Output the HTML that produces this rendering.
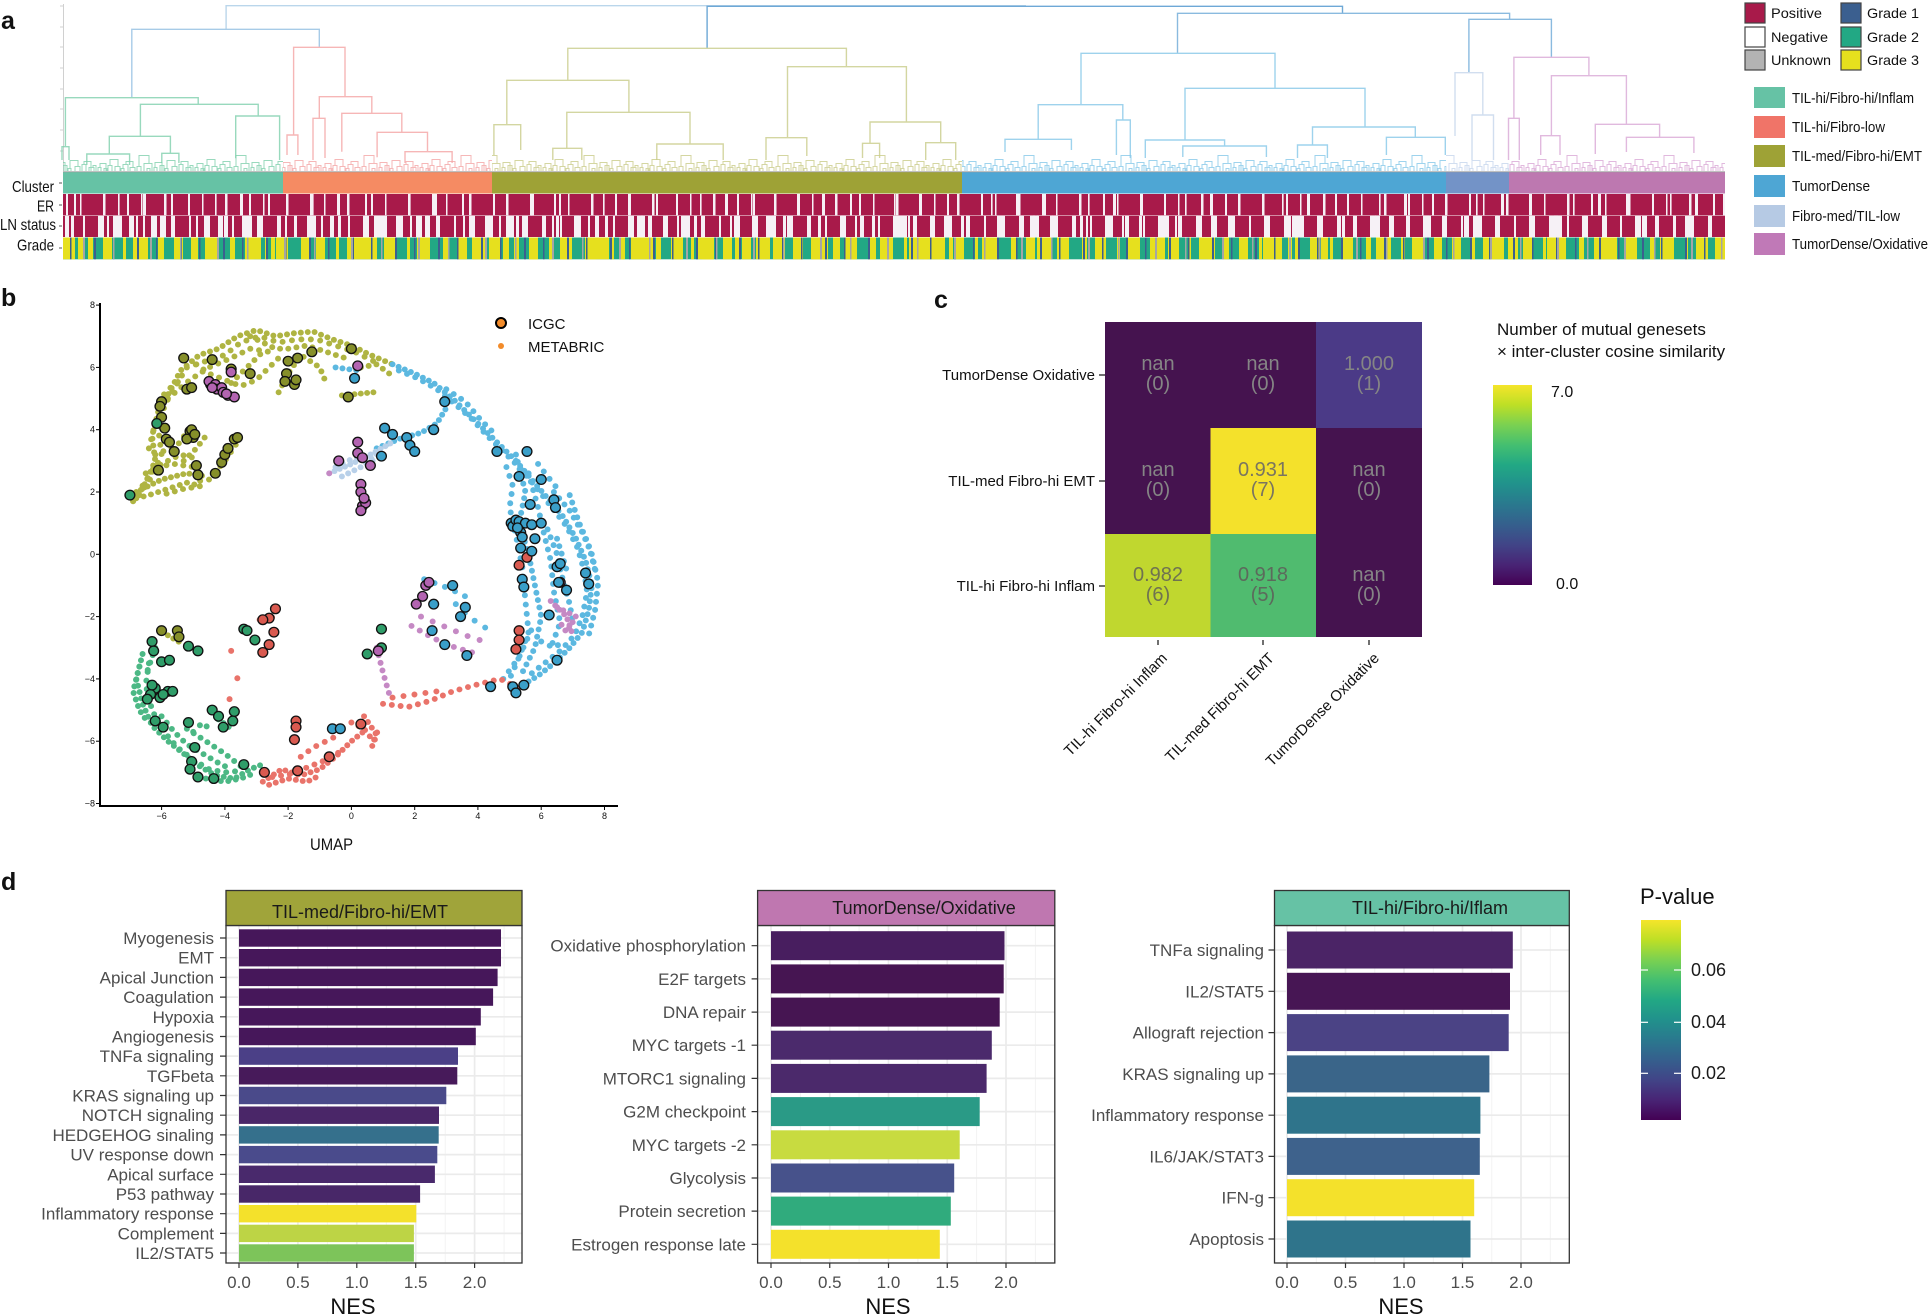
<!DOCTYPE html>
<html><head><meta charset="utf-8">
<style>
html,body{margin:0;padding:0;background:#fff;}
svg{display:block;font-family:"Liberation Sans",Arial,sans-serif;}
</style></head><body>
<svg width="1929" height="1316" viewBox="0 0 1929 1316" xmlns="http://www.w3.org/2000/svg">
<defs>
<linearGradient id="vir" x1="0" y1="1" x2="0" y2="0">
<stop offset="0" stop-color="#440154"/><stop offset="0.1" stop-color="#482475"/><stop offset="0.2" stop-color="#414487"/><stop offset="0.3" stop-color="#355f8d"/><stop offset="0.4" stop-color="#2a788e"/><stop offset="0.5" stop-color="#21918c"/><stop offset="0.6" stop-color="#22a884"/><stop offset="0.7" stop-color="#44bf70"/><stop offset="0.8" stop-color="#7ad151"/><stop offset="0.9" stop-color="#bddf26"/><stop offset="1" stop-color="#f5e52a"/>
</linearGradient>
<path id="nzp" fill="none" stroke-width="1" d="M1 21.5V18H4V21.5M3 18V14H9V21.5M7 21.5V19H10V21.5M11 21.5V16H15V21.5M13 16V10H21V17M18 21.5V17H23V21.5M24 21.5V19H27V21.5M26 19V15H31V21.5M29 15V12H36V18M33 21.5V18H38V21.5M40 21.5V17H44V21.5M42 17V6H52V14M47 21.5V14H55V21.5M50 21.5V19H53V21.5M57 21.5V18H60V21.5M58 18V13H65V21.5M63 21.5V16H67V21.5M68 21.5V19H71V21.5M70 19V11H78V17M75 21.5V17H80V21.5M82 21.5V15H86V21.5M84 15V12H91V21.5M89 21.5V18H94V21.5M93 18V16H96V21.5"/>
<pattern id="nzT" patternUnits="userSpaceOnUse" x="0" y="149.5" width="97" height="22"><use href="#nzp" stroke="#7fd0ad"/></pattern>
<pattern id="nzO" patternUnits="userSpaceOnUse" x="31" y="149.5" width="97" height="22"><use href="#nzp" stroke="#f4a5a5"/></pattern>
<pattern id="nzL" patternUnits="userSpaceOnUse" x="57" y="149.5" width="97" height="22"><use href="#nzp" stroke="#c9cc8a"/></pattern>
<pattern id="nzB" patternUnits="userSpaceOnUse" x="12" y="149.5" width="97" height="22"><use href="#nzp" stroke="#86c8e8"/></pattern>
<pattern id="nzS" patternUnits="userSpaceOnUse" x="44" y="149.5" width="97" height="22"><use href="#nzp" stroke="#c6d6ec"/></pattern>
<pattern id="nzP" patternUnits="userSpaceOnUse" x="70" y="149.5" width="97" height="22"><use href="#nzp" stroke="#d9a8d6"/></pattern>

<pattern id="erA" patternUnits="userSpaceOnUse" x="63" y="0" width="61" height="300"><rect x="3" width="2" height="300" fill="#f6f1f6"/><rect x="17" width="1.5" height="300" fill="#f6f1f6"/><rect x="40" width="2.5" height="300" fill="#f6f1f6"/></pattern>
<pattern id="erB" patternUnits="userSpaceOnUse" x="63" y="0" width="97" height="300"><rect x="11" width="2" height="300" fill="#f6f1f6"/><rect x="55" width="1.6" height="300" fill="#f6f1f6"/><rect x="80" width="3" height="300" fill="#f6f1f6"/></pattern>
<pattern id="lnA" patternUnits="userSpaceOnUse" x="63" y="0" width="53" height="300"><rect x="2" width="4" height="300" fill="#f6f1f6"/><rect x="20" width="2" height="300" fill="#f6f1f6"/><rect x="35" width="6" height="300" fill="#f6f1f6"/></pattern>
<pattern id="lnB" patternUnits="userSpaceOnUse" x="63" y="0" width="89" height="300"><rect x="8" width="3" height="300" fill="#f6f1f6"/><rect x="44" width="2" height="300" fill="#f6f1f6"/><rect x="66" width="5" height="300" fill="#f6f1f6"/><rect x="80" width="2" height="300" fill="#f6f1f6"/></pattern>
<pattern id="lnC" patternUnits="userSpaceOnUse" x="63" y="0" width="131" height="300"><rect x="50" width="8" height="300" fill="#f6f1f6"/><rect x="100" width="3" height="300" fill="#f6f1f6"/></pattern>
<pattern id="gY1" patternUnits="userSpaceOnUse" x="63" y="0" width="71" height="300"><rect x="0" width="12" height="300" fill="#e6e01e"/><rect x="25" width="5" height="300" fill="#e6e01e"/><rect x="40" width="9" height="300" fill="#e6e01e"/><rect x="60" width="3" height="300" fill="#e6e01e"/></pattern>
<pattern id="gY2" patternUnits="userSpaceOnUse" x="63" y="0" width="113" height="300"><rect x="15" width="7" height="300" fill="#e6e01e"/><rect x="70" width="15" height="300" fill="#e6e01e"/><rect x="95" width="4" height="300" fill="#e6e01e"/></pattern>
<pattern id="gY3" patternUnits="userSpaceOnUse" x="63" y="0" width="29" height="300"><rect x="5" width="6" height="300" fill="#e6e01e"/></pattern>
<pattern id="gB" patternUnits="userSpaceOnUse" x="63" y="0" width="43" height="300"><rect x="7" width="1.5" height="300" fill="#3b5f8f"/><rect x="31" width="2" height="300" fill="#3b5f8f"/></pattern>
<pattern id="gG" patternUnits="userSpaceOnUse" x="63" y="0" width="67" height="300"><rect x="20" width="2" height="300" fill="#a5a5a5"/><rect x="50" width="1.5" height="300" fill="#a5a5a5"/></pattern>
</defs>
<rect width="1929" height="1316" fill="#fff"/>

<!-- ===== Panel a ===== -->
<text x="1" y="29" font-size="25" font-weight="bold" fill="#111">a</text>
<line x1="63.5" y1="4" x2="63.5" y2="171" stroke="#d0d0d0" stroke-width="1"/>
<g stroke="#d0d0d0" stroke-width="1">
<line x1="60" y1="6" x2="63" y2="6"/><line x1="60" y1="27" x2="63" y2="27"/><line x1="60" y1="47" x2="63" y2="47"/><line x1="60" y1="68" x2="63" y2="68"/><line x1="60" y1="89" x2="63" y2="89"/><line x1="60" y1="109" x2="63" y2="109"/><line x1="60" y1="130" x2="63" y2="130"/><line x1="60" y1="151" x2="63" y2="151"/>
</g>
<!-- dendrogram noise -->
<rect x="63" y="149.5" width="220" height="22" fill="url(#nzT)" opacity="0.8"/>
<rect x="283" y="149.5" width="209" height="22" fill="url(#nzO)" opacity="0.8"/>
<rect x="492" y="149.5" width="470" height="22" fill="url(#nzL)" opacity="0.8"/>
<rect x="962" y="149.5" width="484" height="22" fill="url(#nzB)" opacity="0.8"/>
<rect x="1446" y="149.5" width="63" height="22" fill="url(#nzS)" opacity="0.8"/>
<rect x="1509" y="149.5" width="216" height="22" fill="url(#nzP)" opacity="0.8"/>
<g fill="none" stroke-width="1.4" opacity="0.8">
<path stroke="#a9cce7" d="M226.1 29.3V5.7H1025.3V6.3"/>
<path stroke="#4a93cc" d="M707.1 48.3V6.3H1342.5V13.3"/>
<path stroke="#92bfe2" d="M131.8 97.7V29.3H319.3V47.3"/>
<path stroke="#7fd0ad" d="M65.4 146.7V97.7H198.2V104.3M140.4 136.3V104.3H258.2V116M109.3 154V136.3H170.4V154M235.7 158.3V116H279.6V160M86.8 165V154H129.6V165M161.8 163V153.3H178.9V163M62 160V146.7H69V160"/>
<path stroke="#f4a5a5" d="M293.6 135V47.3H345V96.7M319.3 118.3V96.7H371.8V113.3M341.8 151.7V113.3H401.8V132.3M377.1 157.3V132.3H427.5V151.7M405 163V151.7H452.1V163M287 155V135H297.9V155M313 160V118.3H325V158"/>
<path stroke="#c9cc8a" d="M567.8 80.3V48.3H846.4V66.7M506.8 124.7V80.3H628.9V112.3M493.9 155V124.7H520.7V150M566.8 148.3V112.3H690V144M787.5 137.7V66.7H906.4V122M766 160V137.7H806.8V156M870 143.3V122H940.7V142.7M656.8 160V144H723.2V160M552.8 160V148.3H581.8V160M862.5 158V143.3H879.6V158M925.7 160V142.7H955.7V160"/>
<path stroke="#6eaad8" d="M1177.5 53.3V13.3H1509.6V19.3M1468.9 72.7V19.3H1551.4V57.3"/>
<path stroke="#86c8e8" d="M1081 104.7V53.3H1275V88.3M1038.2 139.3V104.7H1122.8V120M1185 140V88.3H1365V127M1312.5 145V127H1415.3V137.3M1005 152V139.3H1071.4V150M1116.4 155V120H1130.3V158M1145.3 158V140H1224.6V146M1182.8 157V146H1266.4V157M1386.4 155V137.3H1445.3V155M1297.5 158V145H1327.4V158"/>
<path stroke="#c6d6ec" d="M1455 136V72.7H1482.8V115M1472 160V115H1493.5V160"/>
<path stroke="#d9a8d6" d="M1513.9 118.3V57.3H1588.9V75.7M1551.4 135.7V75.7H1626.4V124.3M1595.3 154V124.3H1659.6V137.3M1626.4 152V137.3H1693.9V153M1540.7 155V135.7H1560V155M1508.5 160V118.3H1519.3V160"/>
</g>
<!-- annotation rows -->
<rect x="63" y="172" width="220" height="21.5" fill="#66c2a5"/>
<rect x="283" y="172" width="209" height="21.5" fill="#f58b63"/>
<rect x="492" y="172" width="470" height="21.5" fill="#9ea236"/>
<rect x="962" y="172" width="484" height="21.5" fill="#4ea6d4"/>
<rect x="1446" y="172" width="63" height="21.5" fill="#7393c7"/>
<rect x="1509" y="172" width="216" height="21.5" fill="#bd78b0"/>
<line x1="63" y1="171.8" x2="1725" y2="171.8" stroke="#999" stroke-width="0.8"/>
<rect x="63" y="194" width="1662" height="21.3" fill="#a81a4a"/>
<rect x="63" y="194" width="1662" height="21.3" fill="url(#erA)"/>
<rect x="63" y="194" width="1662" height="21.3" fill="url(#erB)"/>
<rect x="63" y="215.8" width="1662" height="21.2" fill="#a81a4a"/>
<rect x="63" y="215.8" width="1662" height="21.2" fill="url(#lnA)"/>
<rect x="63" y="215.8" width="1662" height="21.2" fill="url(#lnB)"/>
<rect x="63" y="215.8" width="1662" height="21.2" fill="url(#lnC)"/>
<rect x="63" y="237.5" width="1662" height="21.8" fill="#22a884"/>
<rect x="63" y="237.5" width="1662" height="21.8" fill="url(#gY1)"/>
<rect x="63" y="237.5" width="1662" height="21.8" fill="url(#gY2)"/>
<rect x="492" y="237.5" width="470" height="21.8" fill="url(#gY3)"/>
<rect x="63" y="237.5" width="1662" height="21.8" fill="url(#gB)"/>
<rect x="63" y="237.5" width="1662" height="21.8" fill="url(#gG)"/>
<g font-size="16" fill="#111">
<text x="12" y="192" textLength="42" lengthAdjust="spacingAndGlyphs">Cluster</text>
<text x="37" y="211.5" textLength="17" lengthAdjust="spacingAndGlyphs">ER</text>
<text x="0" y="230" textLength="56" lengthAdjust="spacingAndGlyphs">LN status</text>
<text x="17" y="250.5" textLength="37" lengthAdjust="spacingAndGlyphs">Grade</text>
</g>
<g stroke="#555" stroke-width="1">
<line x1="59" y1="183" x2="62" y2="183"/><line x1="59" y1="205" x2="62" y2="205"/><line x1="59" y1="226" x2="62" y2="226"/><line x1="59" y1="248" x2="62" y2="248"/>
</g>
<!-- legend a -->
<g stroke="#444" stroke-width="1.2">
<rect x="1745" y="3" width="20" height="20" fill="#a81a4a"/>
<rect x="1745" y="27" width="20" height="20" fill="#fff"/>
<rect x="1745" y="50" width="20" height="20" fill="#b3b3b3"/>
<rect x="1841" y="3" width="20" height="20" fill="#3b5f8f"/>
<rect x="1841" y="27" width="20" height="20" fill="#22a884"/>
<rect x="1841" y="50" width="20" height="20" fill="#e6e01e"/>
</g>
<g font-size="14" fill="#111">
<text x="1771" y="18" textLength="51" lengthAdjust="spacingAndGlyphs">Positive</text>
<text x="1771" y="42" textLength="57" lengthAdjust="spacingAndGlyphs">Negative</text>
<text x="1771" y="65" textLength="60" lengthAdjust="spacingAndGlyphs">Unknown</text>
<text x="1867" y="18" textLength="52" lengthAdjust="spacingAndGlyphs">Grade 1</text>
<text x="1867" y="42" textLength="52" lengthAdjust="spacingAndGlyphs">Grade 2</text>
<text x="1867" y="65" textLength="52" lengthAdjust="spacingAndGlyphs">Grade 3</text>
</g>
<rect x="1754" y="87" width="31" height="21" fill="#66c2a5"/>
<rect x="1754" y="116" width="31" height="22" fill="#f07468"/>
<rect x="1754" y="145" width="31" height="22" fill="#9ea236"/>
<rect x="1754" y="175" width="31" height="22" fill="#4ea6d4"/>
<rect x="1754" y="205" width="31" height="22" fill="#b6cae4"/>
<rect x="1754" y="233" width="31" height="22" fill="#c079b7"/>
<g font-size="15" fill="#111">
<text x="1792" y="103" textLength="122" lengthAdjust="spacingAndGlyphs">TIL-hi/Fibro-hi/Inflam</text>
<text x="1792" y="132" textLength="93" lengthAdjust="spacingAndGlyphs">TIL-hi/Fibro-low</text>
<text x="1792" y="161" textLength="130" lengthAdjust="spacingAndGlyphs">TIL-med/Fibro-hi/EMT</text>
<text x="1792" y="191" textLength="78" lengthAdjust="spacingAndGlyphs">TumorDense</text>
<text x="1792" y="221" textLength="108" lengthAdjust="spacingAndGlyphs">Fibro-med/TIL-low</text>
<text x="1792" y="249" textLength="136" lengthAdjust="spacingAndGlyphs">TumorDense/Oxidative</text>
</g>

<!-- ===== Panel b ===== -->
<text x="1" y="306" font-size="25" font-weight="bold" fill="#111">b</text>
<g transform="translate(351.4 554.3) scale(31.64 -31.15)">
<g fill="none" stroke-width="0.19" stroke-linecap="round" opacity="0.92">
<g stroke="#a9ae33">
<polyline stroke-dasharray="0 0.22" points="-6.9,1.7 -6.5,2.3 -6.2,3.0 -6.3,3.8 -6.1,4.6 -5.7,5.3 -5.4,5.9 -4.8,6.4 -4.2,6.6 -3.6,7.0 -3.0,7.2 -2.4,7.0 -1.8,7.1 -1.2,7.15 -0.6,6.9 0,6.7 0.6,6.4 1.3,6.1"/>
<polyline stroke-dasharray="0 0.3" points="-6.7,1.9 -6.3,2.5 -6.0,3.2 -6.1,4.0 -5.9,4.8 -5.5,5.5 -5.2,6.0 -4.6,6.2 -4.0,6.4 -3.5,6.8 -2.9,7.0 -2.3,6.8 -1.7,6.9 -1.1,6.9 -0.5,6.7 0.1,6.5 0.7,6.2"/>
<polyline stroke-dasharray="0 0.28" points="-5.8,5.0 -5.1,5.6 -4.5,6.0 -3.8,6.3 -3.2,6.6 -2.6,6.5"/>
<polyline stroke-dasharray="0 0.2" points="-6.8,2.0 -6.0,2.4 -5.2,2.6 -4.6,2.5"/>
<polyline stroke-dasharray="0 0.27" points="-6.6,2.2 -6.2,2.8 -5.6,2.9 -5.0,2.8 -4.7,2.2 -5.3,2.1 -6.0,1.9"/>
<polyline stroke-dasharray="0 0.24" points="-6.8,1.8 -6.4,1.9 -5.8,2.1 -5.2,2.3 -4.8,2.2"/>
<polyline stroke-dasharray="0 0.27" points="-6.5,2.6 -6.0,2.9 -5.4,3.2 -5.0,3.1"/>
<polyline stroke-dasharray="0 0.3" points="-6.4,3.4 -6.2,4.2 -5.9,5.2 -5.4,5.6"/>
<polyline stroke-dasharray="0 0.28" points="-6.2,3.2 -5.5,3.5 -5.0,4.2"/>
<polyline stroke-dasharray="0 0.25" points="-5.3,3.0 -4.9,3.4 -4.6,3.8"/>
<polyline stroke-dasharray="0 0.28" points="-4.9,6.1 -4.5,5.8 -4.0,5.6 -3.5,5.4 -3.0,5.6 -2.6,6.0 -2.2,6.4"/>
<polyline stroke-dasharray="0 0.26" points="-3.8,5.5 -3.3,6.0 -2.8,6.5"/>
<polyline stroke-dasharray="0 0.26" points="-3.2,7.0 -2.8,6.8 -2.4,6.6 -2.0,6.6 -1.4,6.7 -0.8,6.5 -0.2,6.3"/>
<polyline stroke-dasharray="0 0.25" points="-2.3,5.2 -2.0,5.8 -1.6,6.4 -1.0,6.0 -0.8,5.5"/>
<polyline stroke-dasharray="0 0.2" points="-0.3,5.1 0.7,5.2"/>
<polyline stroke-dasharray="0 0.25" points="0.3,6.0 0.8,6.1 1.2,5.8"/>
<polyline stroke-dasharray="0 0.28" points="-4.5,2.4 -4.0,3.0 -3.6,3.6"/>
<polyline stroke-dasharray="0 0.2" points="-5.8,-2.6 -5.3,-2.9"/>
</g>
<g stroke="#4fb3de">
<polyline stroke-dasharray="0 0.22" points="-0.5,6.0 0.2,5.9"/>
<polyline stroke-dasharray="0 0.21" points="1.3,6.1 2.0,5.8 2.6,5.5 3.2,5.0 3.7,4.5 4.2,4.0 4.7,3.5 5.2,3.0 5.7,2.4 6.2,1.8 6.7,1.2 7.1,0.5 7.4,-0.2 7.6,-1.0 7.5,-1.8 7.3,-2.5 6.9,-3.0 6.4,-3.5 5.9,-3.9 5.4,-4.2"/>
<polyline stroke-dasharray="0 0.28" points="1.5,5.9 2.1,5.65 2.7,5.3 3.3,4.8 3.8,4.35 4.3,3.8 4.8,3.3 5.3,2.8 5.8,2.2 6.3,1.55 6.8,0.9 7.15,0.2 7.35,-0.5 7.45,-1.2 7.3,-2.0 7.05,-2.6 6.6,-3.1 6.1,-3.5 5.6,-3.9"/>
<polyline stroke-dasharray="0 0.28" points="3.0,5.3 3.6,4.9 4.1,4.3 4.6,3.8"/>
<polyline stroke-dasharray="0 0.26" points="6.4,2.0 6.9,1.4 7.3,0.7 7.6,0 7.8,-0.9 7.7,-1.8 7.5,-2.6"/>
<polyline stroke-dasharray="0 0.25" points="6.9,1.9 7.2,1.0 7.5,0.3 7.7,-0.5"/>
<polyline stroke-dasharray="0 0.24" points="5.2,3.2 5.5,2.0 5.3,1.0 5.6,0 5.8,-1.0 6.0,-2.0 5.8,-3.0 5.4,-3.8"/>
<polyline stroke-dasharray="0 0.28" points="5.6,2.6 5.9,1.5 6.1,0.6 6.3,-0.2 6.4,-1.2 6.6,-2.2 6.3,-3.0"/>
<polyline stroke-dasharray="0 0.3" points="4.9,2.8 5.1,2.2 5.0,1.5 5.2,0.6 5.4,-0.4 5.5,-1.5 5.6,-2.5 5.3,-3.3 5.0,-4.0"/>
<polyline stroke-dasharray="0 0.27" points="6.2,0.8 6.5,0 6.7,-0.9 6.9,-1.6 7.0,-2.2"/>
<polyline stroke-dasharray="0 0.3" points="5.9,2.9 6.2,2.5 6.6,2.0"/>
<polyline stroke-dasharray="0 0.3" points="6.0,-2.8 6.4,-3.0 6.7,-2.8"/>
<polyline stroke-dasharray="0 0.2" points="0.8,3.4 1.5,3.7 2.2,3.9 2.7,4.2 3.0,4.7"/>
<polyline stroke-dasharray="0 0.25" points="6.5,0.5 6.8,-0.5"/>
<polyline stroke-dasharray="0 0.35" points="2.3,-0.8 3.1,-1.1 3.7,-1.4"/>
<polyline stroke-dasharray="0 0.4" points="3.3,-1.6 3.7,-2.0 4.3,-2.4"/>
<polyline stroke-dasharray="0 0.3" points="4.8,-4.0 5.3,-3.3 5.7,-2.4"/>
</g>
<g stroke="#b3cde8">
<polyline stroke-dasharray="0 0.18" points="-0.7,2.6 0,2.9 0.6,3.2 1.3,3.6"/>
<polyline stroke-dasharray="0 0.22" points="-0.3,2.5 0.3,2.8 0.9,3.3"/>
<polyline stroke-dasharray="0 0.25" points="-0.5,2.8 0.1,3.1 0.7,3.0"/>
</g>
<g stroke="#c17fc0">
<polyline stroke-dasharray="0 0.2" points="6.3,-1.5 6.8,-2.0 7.0,-2.6"/>
<polyline stroke-dasharray="0 0.22" points="6.5,-1.7 7.1,-2.0 6.8,-2.5 6.6,-2.2"/>
<polyline stroke-dasharray="0 0.3" points="1.9,-2.3 2.6,-2.7 3.3,-3.0 4.0,-3.2"/>
<polyline stroke-dasharray="0 0.4" points="2.2,-2.0 2.9,-2.3 3.6,-2.6 4.2,-2.8"/>
<polyline stroke-dasharray="0 0.25" points="0.8,-3.0 1.0,-3.8 1.2,-4.5"/>
<polyline stroke-dasharray="0 0.3" points="-0.7,2.6 -0.69,2.6"/>
</g>
<g stroke="#3db37b">
<polyline stroke-dasharray="0 0.21" points="-6.6,-3.2 -6.8,-4.0 -6.6,-4.8 -6.3,-5.5 -5.8,-6.0 -5.3,-6.4 -4.8,-6.8 -4.3,-7.1 -3.7,-7.2 -3.2,-6.9 -2.7,-6.7"/>
<polyline stroke-dasharray="0 0.28" points="-6.4,-3.5 -6.5,-4.2 -6.3,-5.0 -6.0,-5.6 -5.5,-6.2 -5.0,-6.6 -4.5,-6.9 -4.0,-7.0 -3.5,-6.95"/>
<polyline stroke-dasharray="0 0.22" points="-6.7,-3.6 -6.9,-4.4 -6.7,-5.0 -6.5,-5.3"/>
<polyline stroke-dasharray="0 0.26" points="-6.0,-5.2 -5.6,-5.7 -5.2,-6.1 -4.7,-6.4 -4.2,-6.7 -3.8,-6.9"/>
<polyline stroke-dasharray="0 0.24" points="-4.6,-7.2 -4.0,-7.3 -3.5,-7.2 -3.0,-7.0"/>
<polyline stroke-dasharray="0 0.25" points="-6.2,-3.0 -6.5,-3.9"/>
<polyline stroke-dasharray="0 0.26" points="-5.2,-5.6 -4.6,-6.0 -4.0,-6.4 -3.5,-6.8"/>
<polyline stroke-dasharray="0 0.3" points="-5.0,-5.7 -4.7,-5.4 -4.4,-5.7"/>
<polyline stroke-dasharray="0 0.2" points="-4.2,-5.3 -3.8,-5.6"/>
</g>
<g stroke="#e8685e">
<polyline stroke-dasharray="0 0.21" points="-2.8,-7.3 -2.2,-6.9 -1.6,-7.1 -1.0,-6.9 -0.5,-6.5 0,-6.0 0.5,-5.6"/>
<polyline stroke-dasharray="0 0.28" points="-2.5,-7.15 -1.9,-7.05 -1.3,-6.8 -0.8,-6.6 -0.3,-6.3"/>
<polyline stroke-dasharray="0 0.22" points="-2.6,-7.4 -2.0,-7.2 -1.4,-7.3 -1.0,-7.1"/>
<polyline stroke-dasharray="0 0.3" points="-1.6,-6.5 -1.2,-6.2 -0.8,-6.0 -0.4,-5.8"/>
<polyline stroke-dasharray="0 0.22" points="0.4,-5.2 0.8,-5.8 0.6,-6.3"/>
<polyline stroke-dasharray="0 0.25" points="0.0,-5.4 0.4,-5.6 0.7,-6.0 0.9,-5.5"/>
<polyline stroke-dasharray="0 0.28" points="1.0,-4.8 1.8,-4.9 2.5,-4.7 3.2,-4.4 3.9,-4.2 4.7,-4.0 5.3,-4.3"/>
<polyline stroke-dasharray="0 0.35" points="1.3,-4.6 2.0,-4.5 2.7,-4.4"/>
<polyline stroke-dasharray="0 0.2" points="-2.9,-2.1 -2.4,-2.0"/>
<polyline stroke-dasharray="0 0.9" points="-3.8,-3.1 -3.6,-4.0 -4.0,-4.6 -3.4,-4.8"/>
</g>
</g>
<g stroke="#111" stroke-width="0.042">
<g fill="#868f2a">
<circle cx="-5.3" cy="6.3" r=".155"/><circle cx="-4.4" cy="6.25" r=".155"/><circle cx="-3.2" cy="5.8" r=".155"/><circle cx="-3.8" cy="5.95" r=".155"/><circle cx="-6.0" cy="4.9" r=".155"/><circle cx="-6.05" cy="4.75" r=".155"/><circle cx="-6.0" cy="4.4" r=".155"/><circle cx="-5.9" cy="4.05" r=".155"/><circle cx="-5.85" cy="3.7" r=".155"/><circle cx="-5.75" cy="3.6" r=".155"/><circle cx="-5.2" cy="5.3" r=".155"/><circle cx="-5.05" cy="5.35" r=".155"/><circle cx="-5.1" cy="3.95" r=".155"/><circle cx="-5.0" cy="3.75" r=".155"/><circle cx="-5.2" cy="3.7" r=".155"/><circle cx="-5.05" cy="4.0" r=".155"/><circle cx="-4.95" cy="3.85" r=".155"/><circle cx="-4.3" cy="2.6" r=".155"/><circle cx="-4.1" cy="2.95" r=".155"/><circle cx="-4.0" cy="3.2" r=".155"/><circle cx="-3.9" cy="3.4" r=".155"/><circle cx="-3.7" cy="3.7" r=".155"/><circle cx="-3.6" cy="3.75" r=".155"/><circle cx="-5.6" cy="3.3" r=".155"/><circle cx="-6.1" cy="2.7" r=".155"/><circle cx="-4.9" cy="2.85" r=".155"/><circle cx="-4.85" cy="2.55" r=".155"/><circle cx="-2.0" cy="6.2" r=".155"/><circle cx="-2.05" cy="5.8" r=".155"/><circle cx="-2.1" cy="5.55" r=".155"/><circle cx="-1.8" cy="5.45" r=".155"/><circle cx="-1.75" cy="5.6" r=".155"/><circle cx="-1.7" cy="6.3" r=".155"/><circle cx="-1.25" cy="6.5" r=".155"/><circle cx="0.0" cy="6.6" r=".155"/><circle cx="-0.1" cy="5.05" r=".155"/><circle cx="-6.0" cy="-2.45" r=".155"/><circle cx="-5.5" cy="-2.45" r=".155"/><circle cx="-5.45" cy="-2.65" r=".155"/>
</g>
<g fill="#2f9d69">
<circle cx="-7.0" cy="1.9" r=".155"/><circle cx="-6.15" cy="4.2" r=".155"/><circle cx="-6.3" cy="-2.8" r=".155"/><circle cx="-6.25" cy="-3.1" r=".155"/><circle cx="-6.0" cy="-3.45" r=".155"/><circle cx="-5.75" cy="-3.4" r=".155"/><circle cx="-6.2" cy="-4.3" r=".155"/><circle cx="-6.35" cy="-4.5" r=".155"/><circle cx="-6.05" cy="-4.6" r=".155"/><circle cx="-5.8" cy="-4.4" r=".155"/><circle cx="-5.65" cy="-4.4" r=".155"/><circle cx="-6.45" cy="-4.65" r=".155"/><circle cx="-6.3" cy="-4.2" r=".155"/><circle cx="-5.95" cy="-4.5" r=".155"/><circle cx="-6.2" cy="-5.35" r=".155"/><circle cx="-5.95" cy="-5.55" r=".155"/><circle cx="-5.15" cy="-5.4" r=".155"/><circle cx="-4.4" cy="-5.0" r=".155"/><circle cx="-4.2" cy="-5.2" r=".155"/><circle cx="-4.05" cy="-5.55" r=".155"/><circle cx="-3.7" cy="-5.05" r=".155"/><circle cx="-3.75" cy="-5.35" r=".155"/><circle cx="-4.95" cy="-6.2" r=".155"/><circle cx="-5.05" cy="-6.65" r=".155"/><circle cx="-5.1" cy="-6.9" r=".155"/><circle cx="-4.85" cy="-7.15" r=".155"/><circle cx="-4.35" cy="-7.2" r=".155"/><circle cx="-3.4" cy="-6.75" r=".155"/><circle cx="-3.4" cy="-2.4" r=".155"/><circle cx="-3.3" cy="-2.45" r=".155"/><circle cx="-3.05" cy="-2.75" r=".155"/><circle cx="-5.15" cy="-2.95" r=".155"/><circle cx="-4.85" cy="-3.1" r=".155"/><circle cx="0.95" cy="-2.4" r=".155"/><circle cx="0.5" cy="-3.2" r=".155"/><circle cx="0.95" cy="-3.0" r=".155"/>
</g>
<g fill="#d95a50">
<circle cx="-2.4" cy="-1.75" r=".155"/><circle cx="-2.6" cy="-2.05" r=".155"/><circle cx="-2.8" cy="-2.1" r=".155"/><circle cx="-2.45" cy="-2.5" r=".155"/><circle cx="-2.6" cy="-2.9" r=".155"/><circle cx="-2.8" cy="-3.15" r=".155"/><circle cx="-2.75" cy="-7.0" r=".155"/><circle cx="-1.8" cy="-5.95" r=".155"/><circle cx="-1.75" cy="-5.35" r=".155"/><circle cx="-1.75" cy="-5.55" r=".155"/><circle cx="-1.7" cy="-6.95" r=".155"/><circle cx="-0.7" cy="-6.5" r=".155"/><circle cx="0.3" cy="-5.45" r=".155"/><circle cx="5.3" cy="-2.45" r=".155"/><circle cx="5.3" cy="-2.75" r=".155"/><circle cx="5.2" cy="-3.05" r=".155"/><circle cx="5.55" cy="-0.1" r=".155"/><circle cx="5.3" cy="-0.35" r=".155"/>
</g>
<g fill="#b364b1">
<circle cx="-4.45" cy="5.45" r=".155"/><circle cx="-4.5" cy="5.55" r=".155"/><circle cx="-4.3" cy="5.45" r=".155"/><circle cx="-4.25" cy="5.3" r=".155"/><circle cx="-4.1" cy="5.35" r=".155"/><circle cx="-4.05" cy="5.2" r=".155"/><circle cx="-3.9" cy="5.1" r=".155"/><circle cx="-3.7" cy="5.05" r=".155"/><circle cx="-3.8" cy="5.85" r=".155"/><circle cx="-4.4" cy="5.35" r=".155"/><circle cx="-3.95" cy="5.15" r=".155"/><circle cx="0.2" cy="6.05" r=".155"/><circle cx="0.2" cy="3.6" r=".155"/><circle cx="0.2" cy="3.25" r=".155"/><circle cx="0.35" cy="3.1" r=".155"/><circle cx="0.6" cy="2.85" r=".155"/><circle cx="-0.4" cy="3.0" r=".155"/><circle cx="0.3" cy="2.25" r=".155"/><circle cx="0.3" cy="2.0" r=".155"/><circle cx="0.35" cy="1.55" r=".155"/><circle cx="0.45" cy="1.65" r=".155"/><circle cx="0.3" cy="1.4" r=".155"/><circle cx="0.4" cy="1.8" r=".155"/><circle cx="2.35" cy="-1.0" r=".155"/><circle cx="2.45" cy="-0.9" r=".155"/><circle cx="2.25" cy="-1.35" r=".155"/><circle cx="2.05" cy="-1.6" r=".155"/><circle cx="0.85" cy="-3.1" r=".155"/><circle cx="6.6" cy="-0.9" r=".155"/>
</g>
<g fill="#3a9fc9">
<circle cx="2.95" cy="4.9" r=".155"/><circle cx="2.6" cy="4.0" r=".155"/><circle cx="1.75" cy="3.75" r=".155"/><circle cx="1.85" cy="3.5" r=".155"/><circle cx="2.0" cy="3.3" r=".155"/><circle cx="1.05" cy="4.05" r=".155"/><circle cx="1.3" cy="3.85" r=".155"/><circle cx="0.95" cy="3.15" r=".155"/><circle cx="0.1" cy="5.65" r=".155"/><circle cx="4.6" cy="3.3" r=".155"/><circle cx="5.55" cy="3.3" r=".155"/><circle cx="5.3" cy="2.5" r=".155"/><circle cx="6.0" cy="2.4" r=".155"/><circle cx="5.65" cy="1.6" r=".155"/><circle cx="6.4" cy="1.75" r=".155"/><circle cx="6.45" cy="1.5" r=".155"/><circle cx="5.05" cy="1.0" r=".155"/><circle cx="5.1" cy="0.9" r=".155"/><circle cx="5.2" cy="1.1" r=".155"/><circle cx="5.3" cy="1.05" r=".155"/><circle cx="5.5" cy="1.0" r=".155"/><circle cx="5.35" cy="0.7" r=".155"/><circle cx="5.25" cy="0.85" r=".155"/><circle cx="5.4" cy="0.55" r=".155"/><circle cx="5.35" cy="0.2" r=".155"/><circle cx="5.7" cy="0.95" r=".155"/><circle cx="6.0" cy="1.0" r=".155"/><circle cx="5.8" cy="0.5" r=".155"/><circle cx="5.7" cy="0.1" r=".155"/><circle cx="6.5" cy="-0.4" r=".155"/><circle cx="6.6" cy="-0.3" r=".155"/><circle cx="7.4" cy="-0.6" r=".155"/><circle cx="7.5" cy="-0.95" r=".155"/><circle cx="5.4" cy="-0.8" r=".155"/><circle cx="5.45" cy="-1.05" r=".155"/><circle cx="6.55" cy="-0.9" r=".155"/><circle cx="6.8" cy="-1.15" r=".155"/><circle cx="6.25" cy="-1.95" r=".155"/><circle cx="6.5" cy="-3.4" r=".155"/><circle cx="3.2" cy="-1.0" r=".155"/><circle cx="3.6" cy="-1.7" r=".155"/><circle cx="3.45" cy="-2.0" r=".155"/><circle cx="2.55" cy="-2.45" r=".155"/><circle cx="2.95" cy="-2.9" r=".155"/><circle cx="3.65" cy="-3.25" r=".155"/><circle cx="4.4" cy="-4.25" r=".155"/><circle cx="5.1" cy="-4.25" r=".155"/><circle cx="5.2" cy="-4.45" r=".155"/><circle cx="5.45" cy="-4.2" r=".155"/><circle cx="2.6" cy="-1.6" r=".155"/><circle cx="-0.6" cy="-5.6" r=".155"/><circle cx="-0.35" cy="-5.6" r=".155"/>
</g>
</g>
</g>
<line x1="100" y1="303" x2="100" y2="807" stroke="#000" stroke-width="2"/>
<line x1="99" y1="806" x2="618" y2="806" stroke="#000" stroke-width="2"/>
<g stroke="#000" stroke-width="1">
<line x1="96" y1="305.1" x2="100" y2="305.1"/><line x1="96" y1="367.4" x2="100" y2="367.4"/><line x1="96" y1="429.7" x2="100" y2="429.7"/><line x1="96" y1="492" x2="100" y2="492"/><line x1="96" y1="554.3" x2="100" y2="554.3"/><line x1="96" y1="616.6" x2="100" y2="616.6"/><line x1="96" y1="678.9" x2="100" y2="678.9"/><line x1="96" y1="741.2" x2="100" y2="741.2"/><line x1="96" y1="803.5" x2="100" y2="803.5"/>
<line x1="161.6" y1="806" x2="161.6" y2="810"/><line x1="224.9" y1="806" x2="224.9" y2="810"/><line x1="288.1" y1="806" x2="288.1" y2="810"/><line x1="351.4" y1="806" x2="351.4" y2="810"/><line x1="414.7" y1="806" x2="414.7" y2="810"/><line x1="477.9" y1="806" x2="477.9" y2="810"/><line x1="541.2" y1="806" x2="541.2" y2="810"/><line x1="604.5" y1="806" x2="604.5" y2="810"/>
</g>
<g font-size="9" fill="#111" text-anchor="end">
<text x="95" y="308">8</text><text x="95" y="370.5">6</text><text x="95" y="432.7">4</text><text x="95" y="495">2</text><text x="95" y="557.3">0</text><text x="95" y="619.6">−2</text><text x="95" y="681.9">−4</text><text x="95" y="744.2">−6</text><text x="95" y="806.5">−8</text>
</g>
<g font-size="9" fill="#111" text-anchor="middle">
<text x="161.6" y="819">−6</text><text x="224.9" y="819">−4</text><text x="288.1" y="819">−2</text><text x="351.4" y="819">0</text><text x="414.7" y="819">2</text><text x="477.9" y="819">4</text><text x="541.2" y="819">6</text><text x="604.5" y="819">8</text>
</g>
<text x="310" y="850" font-size="17" fill="#111" textLength="43" lengthAdjust="spacingAndGlyphs">UMAP</text>
<circle cx="501" cy="323" r="5" fill="#f28b2a" stroke="#000" stroke-width="2"/>
<circle cx="501" cy="346" r="3" fill="#f28b2a"/>
<text x="528" y="329" font-size="15" fill="#111">ICGC</text>
<text x="528" y="352" font-size="15" fill="#111">METABRIC</text>

<!-- ===== Panel c ===== -->
<text x="934" y="308" font-size="25" font-weight="bold" fill="#111">c</text>
<rect x="1105" y="322" width="106" height="106" fill="#45134f"/>
<rect x="1210.5" y="322" width="106" height="106" fill="#45134f"/>
<rect x="1316" y="322" width="106" height="106" fill="#4b3a87"/>
<rect x="1105" y="428" width="106" height="106" fill="#45134f"/>
<rect x="1210.5" y="428" width="106" height="106" fill="#f4e12b"/>
<rect x="1316" y="428" width="106" height="106" fill="#45134f"/>
<rect x="1105" y="534" width="106" height="103" fill="#c0d72f"/>
<rect x="1210.5" y="534" width="106" height="103" fill="#50bb6f"/>
<rect x="1316" y="534" width="106" height="103" fill="#45134f"/>
<g font-size="20" fill="#858585" text-anchor="middle">
<text x="1158" y="370">nan</text><text x="1158" y="390">(0)</text>
<text x="1263" y="370">nan</text><text x="1263" y="390">(0)</text>
<text x="1369" y="370">1.000</text><text x="1369" y="390">(1)</text>
<text x="1158" y="476">nan</text><text x="1158" y="496">(0)</text>
<text x="1263" y="476" fill="#7a7560">0.931</text><text x="1263" y="496" fill="#7a7560">(7)</text>
<text x="1369" y="476">nan</text><text x="1369" y="496">(0)</text>
<text x="1158" y="581" fill="#6f7350">0.982</text><text x="1158" y="601" fill="#6f7350">(6)</text>
<text x="1263" y="581" fill="#5c6a5c">0.918</text><text x="1263" y="601" fill="#5c6a5c">(5)</text>
<text x="1369" y="581">nan</text><text x="1369" y="601">(0)</text>
</g>
<g stroke="#111" stroke-width="1.2">
<line x1="1099" y1="375" x2="1105" y2="375"/><line x1="1099" y1="481" x2="1105" y2="481"/><line x1="1099" y1="586" x2="1105" y2="586"/>
<line x1="1158" y1="640" x2="1158" y2="645"/><line x1="1263" y1="640" x2="1263" y2="645"/><line x1="1369" y1="640" x2="1369" y2="645"/>
</g>
<g font-size="15" fill="#111" text-anchor="end">
<text x="1095" y="380">TumorDense Oxidative</text>
<text x="1095" y="486">TIL-med Fibro-hi EMT</text>
<text x="1095" y="591">TIL-hi Fibro-hi Inflam</text>
<text transform="translate(1168,659) rotate(-45)">TIL-hi Fibro-hi Inflam</text>
<text transform="translate(1275,659) rotate(-45)">TIL-med Fibro-hi EMT</text>
<text transform="translate(1380,659) rotate(-45)">TumorDense Oxidative</text>
</g>
<rect x="1493" y="385" width="39" height="200" fill="url(#vir)"/>
<text x="1551" y="397" font-size="16" fill="#111">7.0</text>
<text x="1556" y="589" font-size="16" fill="#111">0.0</text>
<text x="1497" y="335" font-size="17" fill="#111">Number of mutual genesets</text>
<text x="1497" y="357" font-size="17" fill="#111">× inter-cluster cosine similarity</text>

<!-- ===== Panel d ===== -->
<text x="1" y="890" font-size="25" font-weight="bold" fill="#111">d</text>
<!-- panel 1 -->
<rect x="226" y="925.5" width="296" height="337.5" fill="#fff"/>
<path stroke="#f2f2f2" stroke-width="0.9" d="M268.5 925.5V1263M327.4 925.5V1263M386.3 925.5V1263M445.2 925.5V1263M504.1 925.5V1263"/>
<path stroke="#ebebeb" stroke-width="1.7" d="M239 925.5V1263M297.9 925.5V1263M356.8 925.5V1263M415.7 925.5V1263M474.6 925.5V1263M226 938H522M226 957.7H522M226 977.4H522M226 997.1H522M226 1016.8H522M226 1036.5H522M226 1056.1H522M226 1075.8H522M226 1095.5H522M226 1115.2H522M226 1134.9H522M226 1154.6H522M226 1174.3H522M226 1194H522M226 1213.7H522M226 1233.4H522M226 1253H522"/>
<rect x="239" y="929.3" width="262" height="17.4" fill="#46175a"/>
<rect x="239" y="949" width="262" height="17.4" fill="#46175a"/>
<rect x="239" y="968.7" width="258.6" height="17.4" fill="#46175a"/>
<rect x="239" y="988.4" width="254.1" height="17.4" fill="#46175a"/>
<rect x="239" y="1008.1" width="241.8" height="17.4" fill="#46175a"/>
<rect x="239" y="1027.8" width="236.8" height="17.4" fill="#46175a"/>
<rect x="239" y="1047.4" width="219" height="17.4" fill="#4b4087"/>
<rect x="239" y="1067.1" width="218.3" height="17.4" fill="#471a5a"/>
<rect x="239" y="1086.8" width="207.3" height="17.4" fill="#4a4a8a"/>
<rect x="239" y="1106.5" width="200" height="17.4" fill="#4a2668"/>
<rect x="239" y="1126.2" width="199.7" height="17.4" fill="#35708c"/>
<rect x="239" y="1145.9" width="198.3" height="17.4" fill="#4a4b8c"/>
<rect x="239" y="1165.6" width="195.9" height="17.4" fill="#49296c"/>
<rect x="239" y="1185.3" width="181.1" height="17.4" fill="#482768"/>
<rect x="239" y="1205" width="177.3" height="17.4" fill="#f4e12b"/>
<rect x="239" y="1224.7" width="174.9" height="17.4" fill="#bdd445"/>
<rect x="239" y="1244.3" width="174.9" height="17.4" fill="#7dc45a"/>
<rect x="226" y="925.5" width="296" height="337.5" fill="none" stroke="#333" stroke-width="1.3"/>
<rect x="226" y="890.5" width="296" height="35" fill="#a0a43a" stroke="#333" stroke-width="1.3"/>
<path stroke="#333" stroke-width="1.2" d="M220 938H226M220 957.7H226M220 977.4H226M220 997.1H226M220 1016.8H226M220 1036.5H226M220 1056.1H226M220 1075.8H226M220 1095.5H226M220 1115.2H226M220 1134.9H226M220 1154.6H226M220 1174.3H226M220 1194H226M220 1213.7H226M220 1233.4H226M220 1253H226M239 1263V1268M297.9 1263V1268M356.8 1263V1268M415.7 1263V1268M474.6 1263V1268"/>

<!-- panel 2 -->
<rect x="757.6" y="925.5" width="297.2" height="337.5" fill="#fff"/>
<path stroke="#f2f2f2" stroke-width="0.9" d="M800.4 925.5V1263M859.1 925.5V1263M917.9 925.5V1263M976.6 925.5V1263M1035.4 925.5V1263"/>
<path stroke="#ebebeb" stroke-width="1.7" d="M771 925.5V1263M829.75 925.5V1263M888.5 925.5V1263M947.25 925.5V1263M1006 925.5V1263M757.6 945.7H1054.8M757.6 978.9H1054.8M757.6 1012.1H1054.8M757.6 1045.2H1054.8M757.6 1078.4H1054.8M757.6 1111.6H1054.8M757.6 1144.8H1054.8M757.6 1178H1054.8M757.6 1211.1H1054.8M757.6 1244.3H1054.8"/>
<rect x="771" y="931.2" width="233.5" height="29" fill="#481e5f"/>
<rect x="771" y="964.4" width="232.7" height="29" fill="#461552"/>
<rect x="771" y="997.6" width="228.7" height="29" fill="#461552"/>
<rect x="771" y="1030.7" width="220.8" height="29" fill="#4b2a6c"/>
<rect x="771" y="1063.9" width="215.6" height="29" fill="#4b296b"/>
<rect x="771" y="1097.1" width="208.7" height="29" fill="#2a9a86"/>
<rect x="771" y="1130.3" width="188.7" height="29" fill="#c8db40"/>
<rect x="771" y="1163.5" width="183.2" height="29" fill="#47528b"/>
<rect x="771" y="1196.6" width="179.8" height="29" fill="#30ab7d"/>
<rect x="771" y="1229.8" width="168.8" height="29" fill="#f4e12b"/>
<rect x="757.6" y="925.5" width="297.2" height="337.5" fill="none" stroke="#333" stroke-width="1.3"/>
<rect x="757.6" y="890.5" width="297.2" height="35" fill="#bf77b0" stroke="#333" stroke-width="1.3"/>
<path stroke="#333" stroke-width="1.2" d="M751.6 945.7H757.6M751.6 978.9H757.6M751.6 1012.1H757.6M751.6 1045.2H757.6M751.6 1078.4H757.6M751.6 1111.6H757.6M751.6 1144.8H757.6M751.6 1178H757.6M751.6 1211.1H757.6M751.6 1244.3H757.6M771 1263V1268M829.75 1263V1268M888.5 1263V1268M947.25 1263V1268M1006 1263V1268"/>

<!-- panel 3 -->
<rect x="1274.5" y="925.5" width="294.8" height="337.5" fill="#fff"/>
<path stroke="#f2f2f2" stroke-width="0.9" d="M1316.3 925.5V1263M1374.8 925.5V1263M1433.3 925.5V1263M1491.8 925.5V1263M1550.3 925.5V1263"/>
<path stroke="#ebebeb" stroke-width="1.7" d="M1287 925.5V1263M1345.5 925.5V1263M1404 925.5V1263M1462.5 925.5V1263M1521 925.5V1263M1274.5 950H1569.3M1274.5 991.3H1569.3M1274.5 1032.6H1569.3M1274.5 1073.9H1569.3M1274.5 1115.2H1569.3M1274.5 1156.4H1569.3M1274.5 1197.7H1569.3M1274.5 1239H1569.3"/>
<rect x="1287" y="931.5" width="225.8" height="37" fill="#4b2466"/>
<rect x="1287" y="972.8" width="223" height="37" fill="#471654"/>
<rect x="1287" y="1014.1" width="221.7" height="37" fill="#4b4385"/>
<rect x="1287" y="1055.4" width="202.4" height="37" fill="#3a6589"/>
<rect x="1287" y="1096.7" width="193.4" height="37" fill="#2f748b"/>
<rect x="1287" y="1137.9" width="192.8" height="37" fill="#3e628c"/>
<rect x="1287" y="1179.2" width="187.2" height="37" fill="#f4e12b"/>
<rect x="1287" y="1220.5" width="183.5" height="37" fill="#2f748b"/>
<rect x="1274.5" y="925.5" width="294.8" height="337.5" fill="none" stroke="#333" stroke-width="1.3"/>
<rect x="1274.5" y="890.5" width="294.8" height="35" fill="#66c2a5" stroke="#333" stroke-width="1.3"/>
<path stroke="#333" stroke-width="1.2" d="M1268.5 950H1274.5M1268.5 991.3H1274.5M1268.5 1032.6H1274.5M1268.5 1073.9H1274.5M1268.5 1115.2H1274.5M1268.5 1156.4H1274.5M1268.5 1197.7H1274.5M1268.5 1239H1274.5M1287 1263V1268M1345.5 1263V1268M1404 1263V1268M1462.5 1263V1268M1521 1263V1268"/>

<g font-size="18" fill="#1a1a1a" text-anchor="middle">
<text x="360" y="918">TIL-med/Fibro-hi/EMT</text>
<text x="924" y="914">TumorDense/Oxidative</text>
<text x="1430" y="914">TIL-hi/Fibro-hi/Iflam</text>
</g>
<g font-size="17" fill="#4d4d4d" text-anchor="end">
<text x="214" y="944">Myogenesis</text>
<text x="214" y="963.7">EMT</text>
<text x="214" y="983.4">Apical Junction</text>
<text x="214" y="1003.1">Coagulation</text>
<text x="214" y="1022.8">Hypoxia</text>
<text x="214" y="1042.5">Angiogenesis</text>
<text x="214" y="1062.1">TNFa signaling</text>
<text x="214" y="1081.8">TGFbeta</text>
<text x="214" y="1101.5">KRAS signaling up</text>
<text x="214" y="1121.2">NOTCH signaling</text>
<text x="214" y="1140.9">HEDGEHOG sinaling</text>
<text x="214" y="1160.6">UV response down</text>
<text x="214" y="1180.3">Apical surface</text>
<text x="214" y="1200">P53 pathway</text>
<text x="214" y="1219.7">Inflammatory response</text>
<text x="214" y="1239.4">Complement</text>
<text x="214" y="1259">IL2/STAT5</text>

<text x="746" y="951.7">Oxidative phosphorylation</text>
<text x="746" y="984.9">E2F targets</text>
<text x="746" y="1018.1">DNA repair</text>
<text x="746" y="1051.2">MYC targets -1</text>
<text x="746" y="1084.4">MTORC1 signaling</text>
<text x="746" y="1117.6">G2M checkpoint</text>
<text x="746" y="1150.8">MYC targets -2</text>
<text x="746" y="1184">Glycolysis</text>
<text x="746" y="1217.1">Protein secretion</text>
<text x="746" y="1250.3">Estrogen response late</text>

<text x="1264" y="956">TNFa signaling</text>
<text x="1264" y="997.3">IL2/STAT5</text>
<text x="1264" y="1038.6">Allograft rejection</text>
<text x="1264" y="1079.9">KRAS signaling up</text>
<text x="1264" y="1121.2">Inflammatory response</text>
<text x="1264" y="1162.4">IL6/JAK/STAT3</text>
<text x="1264" y="1203.7">IFN-g</text>
<text x="1264" y="1245">Apoptosis</text>
</g>
<g font-size="17" fill="#4d4d4d" text-anchor="middle">
<text x="239" y="1288">0.0</text><text x="297.9" y="1288">0.5</text><text x="356.8" y="1288">1.0</text><text x="415.7" y="1288">1.5</text><text x="474.6" y="1288">2.0</text>
<text x="771" y="1288">0.0</text><text x="829.8" y="1288">0.5</text><text x="888.5" y="1288">1.0</text><text x="947.3" y="1288">1.5</text><text x="1006" y="1288">2.0</text>
<text x="1287" y="1288">0.0</text><text x="1345.5" y="1288">0.5</text><text x="1404" y="1288">1.0</text><text x="1462.5" y="1288">1.5</text><text x="1521" y="1288">2.0</text>
</g>
<g font-size="22" fill="#111" text-anchor="middle">
<text x="353" y="1314">NES</text><text x="888" y="1314">NES</text><text x="1401" y="1314">NES</text>
</g>
<text x="1640" y="904" font-size="22" fill="#111">P-value</text>
<rect x="1641" y="920" width="40" height="200" fill="url(#vir)"/>
<g stroke="#fff" stroke-width="1.2">
<line x1="1641" y1="970" x2="1648" y2="970"/><line x1="1674" y1="970" x2="1681" y2="970"/>
<line x1="1641" y1="1022.3" x2="1648" y2="1022.3"/><line x1="1674" y1="1022.3" x2="1681" y2="1022.3"/>
<line x1="1641" y1="1073.3" x2="1648" y2="1073.3"/><line x1="1674" y1="1073.3" x2="1681" y2="1073.3"/>
</g>
<g font-size="18" fill="#1a1a1a">
<text x="1691" y="976">0.06</text><text x="1691" y="1028">0.04</text><text x="1691" y="1079">0.02</text>
</g>
</svg>
</body></html>
